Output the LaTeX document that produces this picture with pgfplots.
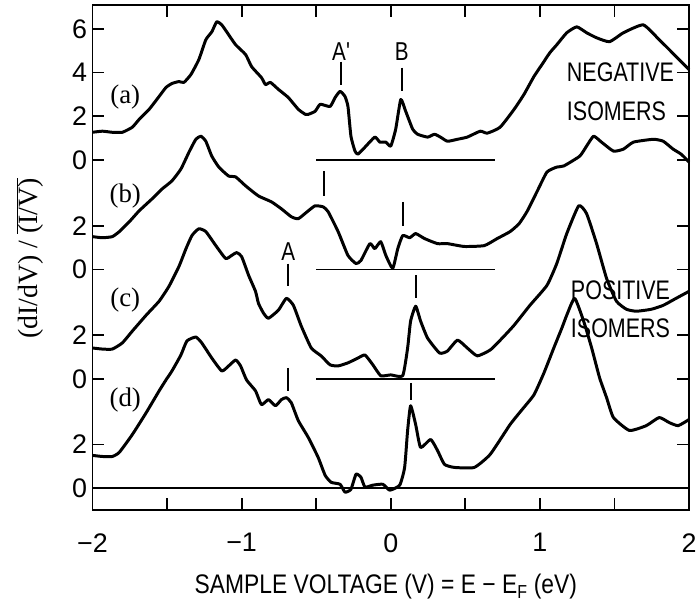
\documentclass[border=0pt]{standalone}
\usepackage{fontspec}
\usepackage{pgfplots}
\pgfplotsset{compat=1.18}
\setmainfont{Liberation Serif}
\setsansfont{Liberation Sans}
\setmonofont{Liberation Mono}
\newfontfamily\condsans{Liberation Sans}[FakeStretch=0.8]
\newfontfamily\xlabfont{Liberation Sans}[FakeStretch=0.85]
\begin{document}
\begin{tikzpicture}
\begin{axis}[
  scale only axis, width=600pt, height=508pt,
  xmin=-2, xmax=2, ymin=-1, ymax=22.09,
  axis line style={line width=1.8pt},
  every tick/.style={line width=1.8pt, black},
  tick align=inside,
  major tick length=12pt, minor tick length=12pt,
  xtick={-2,-1,0,1,2}, minor xtick={-1.5,-0.5,0.5,1.5},
  xticklabels={−2,−1,0,1,2},
  ytick={0,2,5,7,10,12,15,17,19,21},
  yticklabels={0,2,0,2,0,2,0,2,4,6},
  ticklabel style={font=\sffamily\fontsize{27}{27}\selectfont},
  xticklabel style={yshift=-20pt},
  yticklabel style={xshift=-2pt},
  clip=false,
  curve/.style={black, line width=3pt, smooth, tension=0.3, line join=round},
]
% (a)
\addplot[curve] coordinates {
(-2.000,16.27) (-1.933,16.32) (-1.867,16.27) (-1.800,16.27) (-1.733,16.50) (-1.687,16.86) (-1.620,17.32) (-1.553,17.91) (-1.507,18.32) (-1.467,18.50) (-1.420,18.59) (-1.387,18.55) (-1.340,18.91) (-1.287,19.59) (-1.240,20.50) (-1.200,20.86) (-1.167,21.32) (-1.133,21.18) (-1.087,20.73) (-1.040,20.27) (-0.973,19.82) (-0.933,19.27) (-0.867,18.77) (-0.840,18.45) (-0.807,18.55) (-0.753,18.23) (-0.687,17.86) (-0.620,17.32) (-0.573,17.09) (-0.553,17.09) (-0.507,17.23) (-0.473,17.55) (-0.407,17.45) (-0.373,17.86) (-0.340,18.14) (-0.307,17.91) (-0.287,17.45) (-0.267,16.09) (-0.240,15.41) (-0.220,15.27) (-0.173,15.59) (-0.107,16.05) (-0.073,15.82) (-0.033,15.82) (0.000,15.64) (0.033,16.41) (0.067,17.77) (0.100,17.23) (0.147,16.41) (0.180,16.18) (0.247,16.05) (0.293,16.18) (0.333,16.05) (0.380,15.86) (0.447,15.95) (0.513,16.05) (0.600,16.32) (0.647,16.23) (0.733,16.50) (0.827,17.32) (0.893,18.00) (0.960,18.82) (1.013,19.36) (1.067,19.91) (1.113,20.27) (1.180,20.82) (1.247,21.09) (1.313,20.82) (1.380,20.59) (1.467,20.41) (1.560,20.82) (1.693,21.18) (1.800,20.50) (1.867,20.05) (1.933,19.59) (2.000,19.14)
};
% (b)
\addplot[curve] coordinates {
(-2.000,11.50) (-1.933,11.45) (-1.867,11.50) (-1.820,11.73) (-1.753,12.18) (-1.687,12.68) (-1.600,13.23) (-1.533,13.68) (-1.467,14.05) (-1.407,14.59) (-1.353,15.36) (-1.307,15.95) (-1.273,16.09) (-1.240,15.86) (-1.200,15.18) (-1.153,14.68) (-1.087,14.27) (-1.040,14.23) (-0.973,13.82) (-0.887,13.36) (-0.800,13.09) (-0.733,12.77) (-0.667,12.41) (-0.620,12.32) (-0.553,12.68) (-0.507,12.91) (-0.453,12.86) (-0.420,12.64) (-0.353,11.73) (-0.287,10.64) (-0.233,10.27) (-0.200,10.41) (-0.140,11.18) (-0.107,10.95) (-0.067,11.27) (-0.033,10.64) (0.013,10.05) (0.047,10.95) (0.080,11.55) (0.127,11.45) (0.167,11.64) (0.227,11.41) (0.313,11.18) (0.380,11.18) (0.493,11.05) (0.627,11.09) (0.713,11.41) (0.800,11.73) (0.860,12.09) (0.913,12.64) (0.980,13.55) (1.047,14.45) (1.113,14.68) (1.160,14.73) (1.267,15.18) (1.313,15.64) (1.360,16.09) (1.413,15.82) (1.493,15.41) (1.560,15.50) (1.627,15.82) (1.760,15.95) (1.827,15.86) (1.893,15.50) (1.947,15.27) (2.000,14.91)
};
% (c)
\addplot[curve] coordinates {
(-2.000,6.41) (-1.933,6.36) (-1.867,6.36) (-1.800,6.64) (-1.733,7.18) (-1.640,7.91) (-1.553,8.55) (-1.487,9.23) (-1.420,10.14) (-1.373,10.95) (-1.333,11.55) (-1.287,11.86) (-1.240,11.73) (-1.173,11.09) (-1.107,10.50) (-1.067,10.64) (-1.033,10.77) (-1.000,10.59) (-0.953,9.73) (-0.907,9.00) (-0.887,8.45) (-0.853,8.00) (-0.820,7.77) (-0.753,8.14) (-0.700,8.68) (-0.653,8.36) (-0.600,7.41) (-0.533,6.41) (-0.467,6.05) (-0.407,5.64) (-0.353,5.59) (-0.287,5.73) (-0.220,5.95) (-0.173,6.09) (-0.120,5.64) (-0.067,5.14) (0.000,5.18) (0.080,5.14) (0.113,6.41) (0.133,7.64) (0.167,8.32) (0.200,7.64) (0.247,6.86) (0.327,6.18) (0.380,6.27) (0.447,6.77) (0.513,6.41) (0.580,6.05) (0.667,6.32) (0.747,6.86) (0.827,7.45) (0.933,8.36) (1.047,9.27) (1.113,10.27) (1.180,11.64) (1.260,12.91) (1.313,12.55) (1.380,11.18) (1.447,9.59) (1.513,8.55) (1.580,8.18) (1.647,8.09) (1.747,8.18) (1.827,8.36) (1.913,8.68) (2.000,9.00)
};
% (d)
\addplot[curve] coordinates {
(-2.000,1.50) (-1.933,1.45) (-1.867,1.45) (-1.820,1.64) (-1.733,2.45) (-1.640,3.45) (-1.553,4.45) (-1.507,4.95) (-1.467,5.36) (-1.407,6.09) (-1.367,6.73) (-1.307,6.91) (-1.267,6.64) (-1.200,5.95) (-1.133,5.36) (-1.087,5.59) (-1.040,5.86) (-1.007,5.59) (-0.967,4.95) (-0.907,4.45) (-0.867,3.82) (-0.820,4.05) (-0.773,3.77) (-0.733,4.05) (-0.700,4.14) (-0.667,3.91) (-0.620,3.09) (-0.553,2.32) (-0.487,1.41) (-0.440,0.59) (-0.400,0.27) (-0.340,0.18) (-0.307,-0.18) (-0.267,-0.05) (-0.233,0.64) (-0.200,0.50) (-0.173,0.05) (-0.120,0.14) (-0.053,0.18) (-0.007,-0.09) (0.060,0.14) (0.093,0.95) (0.113,2.64) (0.133,3.77) (0.167,2.91) (0.200,1.86) (0.267,2.23) (0.313,1.73) (0.360,1.09) (0.427,0.95) (0.560,0.95) (0.667,1.55) (0.800,2.91) (0.880,3.59) (0.960,4.27) (1.027,5.27) (1.093,6.41) (1.147,7.32) (1.180,7.91) (1.233,8.68) (1.293,7.64) (1.347,6.41) (1.400,5.05) (1.447,4.14) (1.493,3.23) (1.600,2.64) (1.713,2.86) (1.800,3.23) (1.867,3.00) (1.927,2.86) (2.000,3.14)
};
% baselines
\addplot[black, line width=1.8pt] coordinates {(-0.5,15) (0.7,15)};
\addplot[black, line width=1.8pt] coordinates {(-0.5,10) (0.7,10)};
\addplot[black, line width=1.8pt] coordinates {(-0.5,5) (0.7,5)};
\addplot[black, line width=1.8pt] coordinates {(-2,0) (2,0)};
% marker ticks
\addplot[black, line width=2.2pt] coordinates {(-0.333,19.5) (-0.333,18.45)};
\addplot[black, line width=2.2pt] coordinates {(0.073,19.23) (0.073,18.14)};
\addplot[black, line width=2.2pt] coordinates {(-0.447,14.5) (-0.447,13.36)};
\addplot[black, line width=2.2pt] coordinates {(0.08,13.09) (0.08,12.0)};
\addplot[black, line width=2.2pt] coordinates {(-0.687,10.27) (-0.687,9.23)};
\addplot[black, line width=2.2pt] coordinates {(0.167,9.73) (0.167,8.68)};
\addplot[black, line width=2.2pt] coordinates {(-0.687,5.5) (-0.687,4.45)};
\addplot[black, line width=2.2pt] coordinates {(0.133,4.82) (0.133,4.05)};
% text
\node[font=\rmfamily\fontsize{27}{27}\selectfont] at (axis cs:-1.78,17.86) {(a)};
\node[font=\rmfamily\fontsize{27}{27}\selectfont] at (axis cs:-1.78,13.36) {(b)};
\node[font=\rmfamily\fontsize{27}{27}\selectfont] at (axis cs:-1.78,8.59) {(c)};
\node[font=\rmfamily\fontsize{27}{27}\selectfont] at (axis cs:-1.78,4.05) {(d)};
\node[font=\condsans\fontsize{26}{26}\selectfont] at (axis cs:-0.333,19.95) {A'};
\node[font=\condsans\fontsize{26}{26}\selectfont] at (axis cs:0.073,19.95) {B};
\node[font=\condsans\fontsize{26}{26}\selectfont] at (axis cs:-0.687,10.82) {A};
\node[font=\condsans\fontsize{27}{27}\selectfont, anchor=west, inner sep=0pt] at (axis cs:1.18,19.0) {NEGATIVE};
\node[font=\condsans\fontsize{27}{27}\selectfont, anchor=west, inner sep=0pt] at (axis cs:1.18,17.23) {ISOMERS};
\node[font=\condsans\fontsize{27}{27}\selectfont, anchor=west, inner sep=0pt] at (axis cs:1.207,9.05) {POSITIVE};
\node[font=\condsans\fontsize{27}{27}\selectfont, anchor=west, inner sep=0pt] at (axis cs:1.207,7.32) {ISOMERS};
\node[font=\xlabfont\fontsize{27}{27}\selectfont] at (axis cs:-0.033,-4.5) {SAMPLE VOLTAGE (V) = E − E\textsubscript{F} (eV)};
\node[font=\rmfamily\fontsize{28}{28}\selectfont, rotate=90] at (axis cs:-2.42,10.5) {(dI/dV) / $\overline{\hbox{(I/V)}}$};
\end{axis}
\pgfresetboundingbox
\path ([shift={(-93pt,-92pt)}]current axis.south west) rectangle ([shift={(10pt,5pt)}]current axis.north east);
\end{tikzpicture}
\end{document}
